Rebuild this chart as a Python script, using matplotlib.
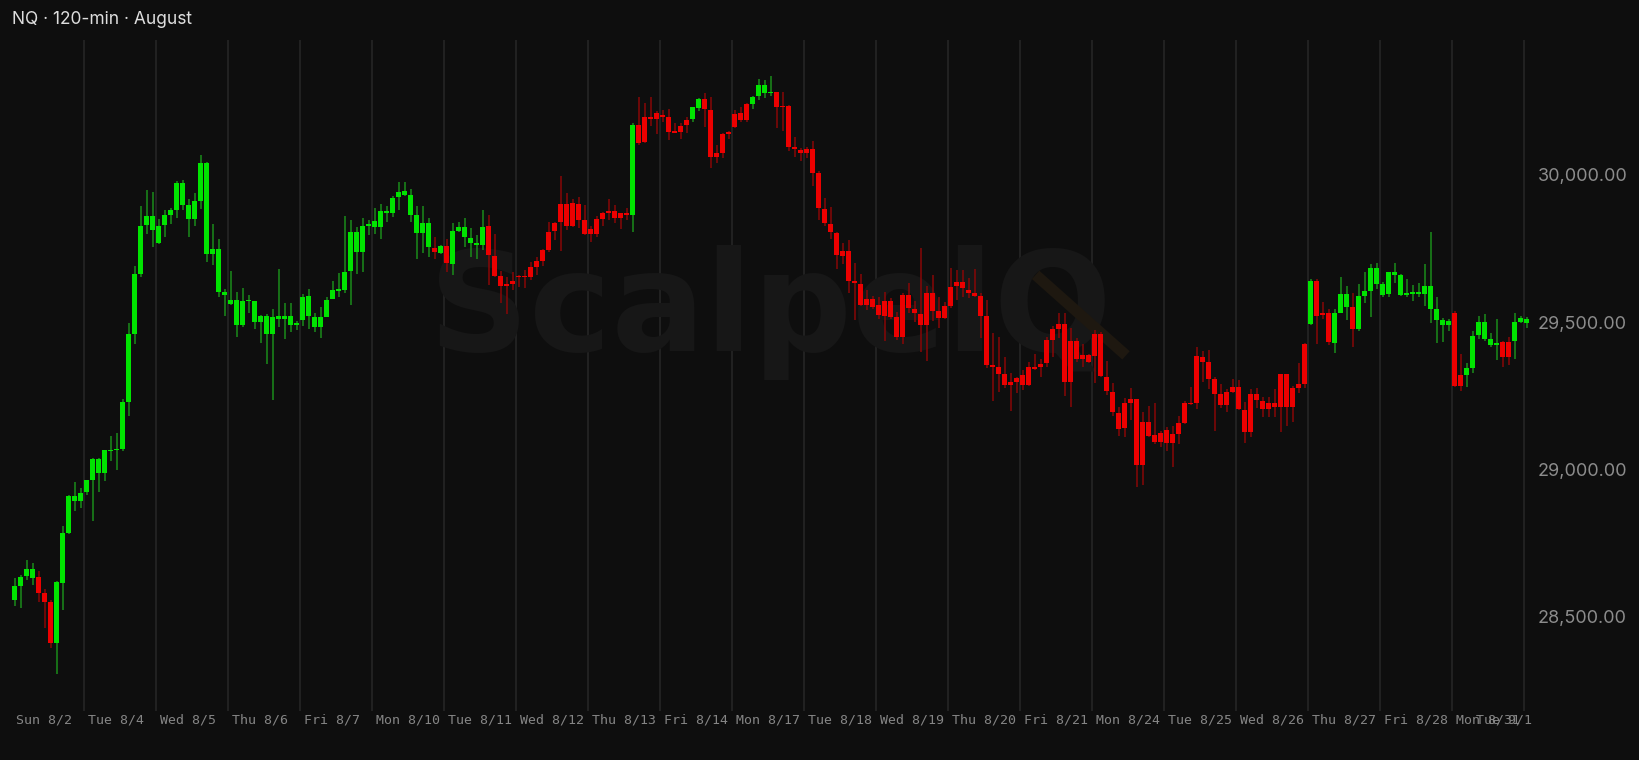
import numpy as np
import matplotlib
matplotlib.use("Agg")
import matplotlib.pyplot as plt
import matplotlib.transforms as mtransforms

### NQ 120-min candles (one row = 10 candles)
opens = [
    28559, 28604, 28638, 28633, 28635, 28582, 28552, 28413, 28616, 28785,
    28894, 28894, 28924, 28965, 28989, 28990, 29063, 29065, 29071, 29231,
    29460, 29664, 29829, 29812, 29770, 29829, 29863, 29882, 29897, 29851,
    29851, 29913, 29732, 29732, 29603, 29593, 29562, 29491, 29491, 29572,
    29501, 29501, 29462, 29460, 29510, 29510, 29492, 29492, 29508, 29521,
    29483, 29483, 29519, 29579, 29607, 29610, 29674, 29738, 29738, 29828,
    29825, 29825, 29872, 29872, 29924, 29933, 29865, 29802, 29802, 29754,
    29752, 29736, 29759, 29699, 29810, 29788, 29770, 29764, 29764, 29827,
    29725, 29657, 29629, 29640, 29656, 29656, 29687, 29708, 29744, 29808,
    29838, 29902, 29902, 29904, 29902, 29846, 29818, 29851, 29871, 29878,
    29877, 29870, 29870, 29863, 30170, 30198, 30198, 30209, 30204, 30196,
    30146, 30167, 30188, 30189, 30227, 30258, 30221, 30074, 30138, 30147,
    30207, 30209, 30240, 30241, 30269, 30277, 30277, 30281, 30234, 30234,
    30096, 30086, 30088, 30088, 30006, 29885, 29834, 29804, 29741, 29741,
    29640, 29630, 29579, 29580, 29558, 29572, 29573, 29518, 29594, 29593,
    29546, 29527, 29601, 29601, 29537, 29554, 29621, 29636, 29636, 29611,
    29601, 29589, 29521, 29355, 29347, 29324, 29297, 29310, 29321, 29347,
    29348, 29360, 29440, 29477, 29494, 29493, 29437, 29437, 29388, 29389,
    29460, 29460, 29314, 29265, 29193, 29225, 29239, 29239, 29162, 29161,
    29116, 29126, 29133, 29121, 29157, 29225, 29225, 29386, 29382, 29365,
    29307, 29256, 29264, 29279, 29281, 29202, 29256, 29258, 29234, 29227,
    29226, 29325, 29325, 29276, 29290, 29426, 29493, 29641, 29531, 29531,
    29431, 29533, 29553, 29551, 29477, 29590, 29606, 29630, 29594, 29595,
    29661, 29592, 29594, 29597, 29597, 29596, 29546, 29509, 29490, 29490,
    29533, 29320, 29320, 29346, 29456, 29443, 29423, 29424, 29432, 29434,
    29437, 29502, 29496]

highs = [
    28633, 28643, 28693, 28682, 28655, 28595, 28559, 28621, 28809, 28914,
    28958, 28938, 28966, 29041, 29038, 29068, 29113, 29125, 29240, 29497,
    29690, 29893, 29949, 29943, 29851, 29881, 29888, 29980, 29983, 29919,
    29938, 30068, 30044, 29835, 29783, 29613, 29674, 29603, 29615, 29593,
    29573, 29526, 29528, 29544, 29680, 29567, 29567, 29506, 29596, 29612,
    29531, 29551, 29585, 29641, 29666, 29861, 29847, 29822, 29853, 29847,
    29889, 29900, 29893, 29929, 29977, 29977, 29952, 29893, 29893, 29853,
    29788, 29762, 29782, 29836, 29840, 29853, 29821, 29796, 29880, 29864,
    29799, 29674, 29655, 29670, 29661, 29678, 29704, 29723, 29748, 29842,
    29842, 29996, 29938, 29917, 29925, 29898, 29828, 29861, 29876, 29917,
    29898, 29872, 29888, 30178, 30263, 30244, 30266, 30217, 30220, 30225,
    30178, 30175, 30197, 30232, 30261, 30277, 30266, 30102, 30141, 30149,
    30221, 30232, 30243, 30268, 30326, 30322, 30337, 30283, 30283, 30236,
    30130, 30091, 30096, 30115, 30015, 29921, 29890, 29806, 29770, 29779,
    29700, 29664, 29610, 29589, 29587, 29603, 29581, 29536, 29598, 29635,
    29572, 29751, 29624, 29661, 29586, 29570, 29683, 29678, 29678, 29649,
    29681, 29598, 29576, 29463, 29451, 29383, 29327, 29316, 29338, 29365,
    29393, 29376, 29451, 29488, 29531, 29531, 29480, 29448, 29425, 29391,
    29474, 29468, 29370, 29295, 29212, 29242, 29276, 29240, 29197, 29217,
    29225, 29130, 29144, 29148, 29182, 29233, 29282, 29417, 29403, 29406,
    29313, 29291, 29273, 29307, 29304, 29231, 29273, 29276, 29245, 29245,
    29273, 29326, 29326, 29285, 29363, 29431, 29646, 29646, 29569, 29544,
    29544, 29655, 29623, 29598, 29629, 29672, 29698, 29702, 29637, 29672,
    29702, 29664, 29646, 29627, 29635, 29698, 29805, 29585, 29514, 29510,
    29539, 29391, 29361, 29471, 29520, 29528, 29464, 29510, 29438, 29449,
    29532, 29520, 29517]

lows = [
    28538, 28532, 28625, 28609, 28552, 28464, 28395, 28307, 28524, 28780,
    28859, 28871, 28913, 28825, 28925, 28962, 29030, 28999, 29062, 29181,
    29426, 29655, 29800, 29756, 29765, 29790, 29835, 29855, 29880, 29790,
    29827, 29885, 29706, 29696, 29587, 29523, 29560, 29449, 29484, 29530,
    29478, 29431, 29359, 29236, 29485, 29442, 29468, 29474, 29489, 29476,
    29468, 29448, 29517, 29578, 29585, 29601, 29559, 29663, 29670, 29796,
    29800, 29783, 29842, 29857, 29881, 29930, 29840, 29714, 29735, 29723,
    29716, 29732, 29672, 29661, 29805, 29757, 29723, 29714, 29745, 29627,
    29655, 29567, 29528, 29610, 29621, 29618, 29644, 29661, 29692, 29740,
    29779, 29743, 29813, 29825, 29819, 29797, 29774, 29791, 29828, 29847,
    29838, 29815, 29847, 29807, 30100, 30107, 30167, 30139, 30181, 30119,
    30142, 30122, 30141, 30181, 30218, 30164, 30023, 30042, 30057, 30121,
    30158, 30181, 30180, 30225, 30256, 30262, 30269, 30161, 30150, 30083,
    30062, 30049, 30057, 29963, 29847, 29828, 29782, 29682, 29698, 29601,
    29508, 29557, 29542, 29545, 29510, 29437, 29510, 29440, 29425, 29531,
    29500, 29400, 29370, 29506, 29480, 29510, 29550, 29576, 29587, 29581,
    29585, 29448, 29344, 29234, 29265, 29276, 29199, 29259, 29270, 29285,
    29338, 29316, 29350, 29383, 29446, 29250, 29214, 29367, 29347, 29361,
    29295, 29313, 29253, 29182, 29115, 29112, 29169, 28942, 28948, 29110,
    29087, 29076, 29064, 29010, 29087, 29154, 29219, 29206, 29299, 29273,
    29132, 29208, 29197, 29259, 29201, 29089, 29112, 29208, 29180, 29178,
    29180, 29127, 29149, 29163, 29259, 29278, 29490, 29426, 29511, 29423,
    29395, 29530, 29508, 29417, 29472, 29564, 29519, 29613, 29586, 29587,
    29632, 29589, 29585, 29572, 29586, 29555, 29499, 29429, 29434, 29471,
    29282, 29267, 29281, 29327, 29442, 29437, 29417, 29372, 29350, 29356,
    29376, 29498, 29480]

closes = [
    28606, 28637, 28663, 28663, 28582, 28552, 28413, 28619, 28785, 28910,
    28910, 28922, 28964, 29035, 29035, 29065, 29068, 29071, 29231, 29460,
    29665, 29828, 29860, 29860, 29828, 29863, 29882, 29974, 29974, 29899,
    29913, 30041, 30041, 29750, 29750, 29602, 29577, 29577, 29574, 29576,
    29572, 29520, 29520, 29519, 29521, 29521, 29521, 29498, 29587, 29589,
    29519, 29517, 29576, 29610, 29613, 29671, 29808, 29808, 29827, 29834,
    29844, 29878, 29879, 29923, 29943, 29946, 29932, 29864, 29837, 29837,
    29738, 29758, 29700, 29811, 29825, 29825, 29786, 29770, 29825, 29730,
    29657, 29623, 29623, 29629, 29653, 29653, 29653, 29689, 29708, 29746,
    29810, 29839, 29827, 29827, 29847, 29800, 29798, 29800, 29852, 29872,
    29854, 29854, 29863, 30170, 30110, 30112, 30189, 30190, 30198, 30146,
    30144, 30147, 30169, 30229, 30257, 30223, 30060, 30060, 30076, 30139,
    30164, 30187, 30187, 30266, 30305, 30305, 30281, 30230, 30230, 30096,
    30087, 30074, 30074, 30006, 29889, 29836, 29805, 29727, 29726, 29640,
    29632, 29560, 29559, 29553, 29524, 29523, 29519, 29451, 29451, 29548,
    29531, 29491, 29491, 29540, 29516, 29516, 29555, 29623, 29615, 29601,
    29589, 29523, 29355, 29347, 29324, 29287, 29286, 29297, 29287, 29287,
    29343, 29347, 29361, 29440, 29478, 29299, 29299, 29376, 29377, 29367,
    29387, 29318, 29267, 29196, 29139, 29140, 29225, 29016, 29016, 29115,
    29093, 29093, 29092, 29089, 29121, 29157, 29222, 29227, 29367, 29307,
    29256, 29219, 29219, 29265, 29205, 29128, 29128, 29236, 29206, 29206,
    29214, 29214, 29212, 29212, 29278, 29291, 29640, 29523, 29525, 29432,
    29533, 29596, 29596, 29477, 29590, 29606, 29685, 29685, 29629, 29671,
    29672, 29661, 29601, 29601, 29601, 29622, 29624, 29546, 29509, 29503,
    29284, 29285, 29345, 29455, 29501, 29501, 29445, 29431, 29383, 29383,
    29501, 29515, 29511]

### sessions: label and index of the first candle of each one
day_labels = ["Sun 8/2", "Tue 8/4", "Wed 8/5", "Thu 8/6", "Fri 8/7",
              "Mon 8/10", "Tue 8/11", "Wed 8/12", "Thu 8/13", "Fri 8/14",
              "Mon 8/17", "Tue 8/18", "Wed 8/19", "Thu 8/20", "Fri 8/21",
              "Mon 8/24", "Tue 8/25", "Wed 8/26", "Thu 8/27", "Fri 8/28",
              "Mon 8/31", "Tue 9/1"]
day_starts = [0, 12, 24, 36, 48, 60, 72, 84, 96, 108, 120, 132, 144, 156,
              168, 180, 192, 204, 216, 228, 240, 252]

price_ticks = [28500, 29000, 29500, 30000]
title = "NQ · 120-min · August"
watermark = "ScalpelQ"

### colours
BG = "#0e0e0e"
GRID = "#242424"
UP_BODY, UP_WICK = "#00e400", "#1a8c1a"
DN_BODY, DN_WICK = "#ec0000", "#880707"

plt.rcParams['font.family'] = ['Inter', 'DejaVu Sans']

o = np.array(opens, dtype=float)
h = np.array(highs, dtype=float)
l = np.array(lows, dtype=float)
c = np.array(closes, dtype=float)
x = np.arange(len(o))
up = c >= o
dn = ~up
body_lo = np.minimum(o, c)
body_h = np.maximum(np.abs(c - o), 5)

fig = plt.figure(figsize=(16.4, 7.6), dpi=100, facecolor=BG)
ax = fig.add_axes([0, 49 / 760, 1532 / 1640, 671 / 760])
ax.set_facecolor(BG)
ax.set_xlim(-14.6 / 6, (1532 - 14.6) / 6)
ax.set_ylim(28181, 30458)

### session separators
ax.vlines([s - 0.5 for s in day_starts[1:]], 0, 1,
          transform=ax.get_xaxis_transform(), colors=GRID, lw=1.3, zorder=0)

### watermark (very faint)
ax.text(0.5026, 0.536, watermark, transform=ax.transAxes, ha='center',
        va='baseline', fontsize=100, fontweight='semibold',
        family='DejaVu Sans', color='#171717', zorder=0.5)
ax.plot([0.676, 0.735], [0.650, 0.530], transform=ax.transAxes,
        color='#1e1810', lw=8, solid_capstyle='butt', zorder=0.6)

### candles
ax.vlines(x[up], l[up], h[up], colors=UP_WICK, lw=1.1, zorder=2)
ax.vlines(x[dn], l[dn], h[dn], colors=DN_WICK, lw=1.1, zorder=2)
ax.bar(x[up], body_h[up], bottom=body_lo[up], width=0.7, color=UP_BODY,
       linewidth=0, zorder=3)
ax.bar(x[dn], body_h[dn], bottom=body_lo[dn], width=0.7, color=DN_BODY,
       linewidth=0, zorder=3)

### price axis on the right
ax.yaxis.tick_right()
ax.set_yticks(price_ticks)
ax.set_yticklabels([f"{p:,.2f}" for p in price_ticks])
ax.tick_params(axis='y', length=0, pad=4, labelsize=13, labelcolor='#8c8c8c')
ax.set_xticks([])
for sp in ax.spines.values():
    sp.set_visible(False)

### day labels under each session (last one pinned to the right edge,
### it runs into "Mon 8/31" just like the original)
trans = mtransforms.blended_transform_factory(ax.transData, ax.transAxes)
for i, (lab, s) in enumerate(zip(day_labels, day_starts)):
    if i == len(day_labels) - 1:
        ax.text(ax.get_xlim()[1], -0.0128, lab, transform=trans, ha='right',
                va='center', fontsize=9.5, family='DejaVu Sans Mono',
                color='#858585')
    else:
        ax.text(s + 0.18, -0.0128, lab, transform=trans, ha='left',
                va='center', fontsize=9.5, family='DejaVu Sans Mono',
                color='#858585')

fig.text(12.5 / 1640, 1 - 20 / 760, title, ha='left', va='center',
         fontsize=12.5, color='#dedede')

fig.savefig("out.png", dpi=100, facecolor=BG)
